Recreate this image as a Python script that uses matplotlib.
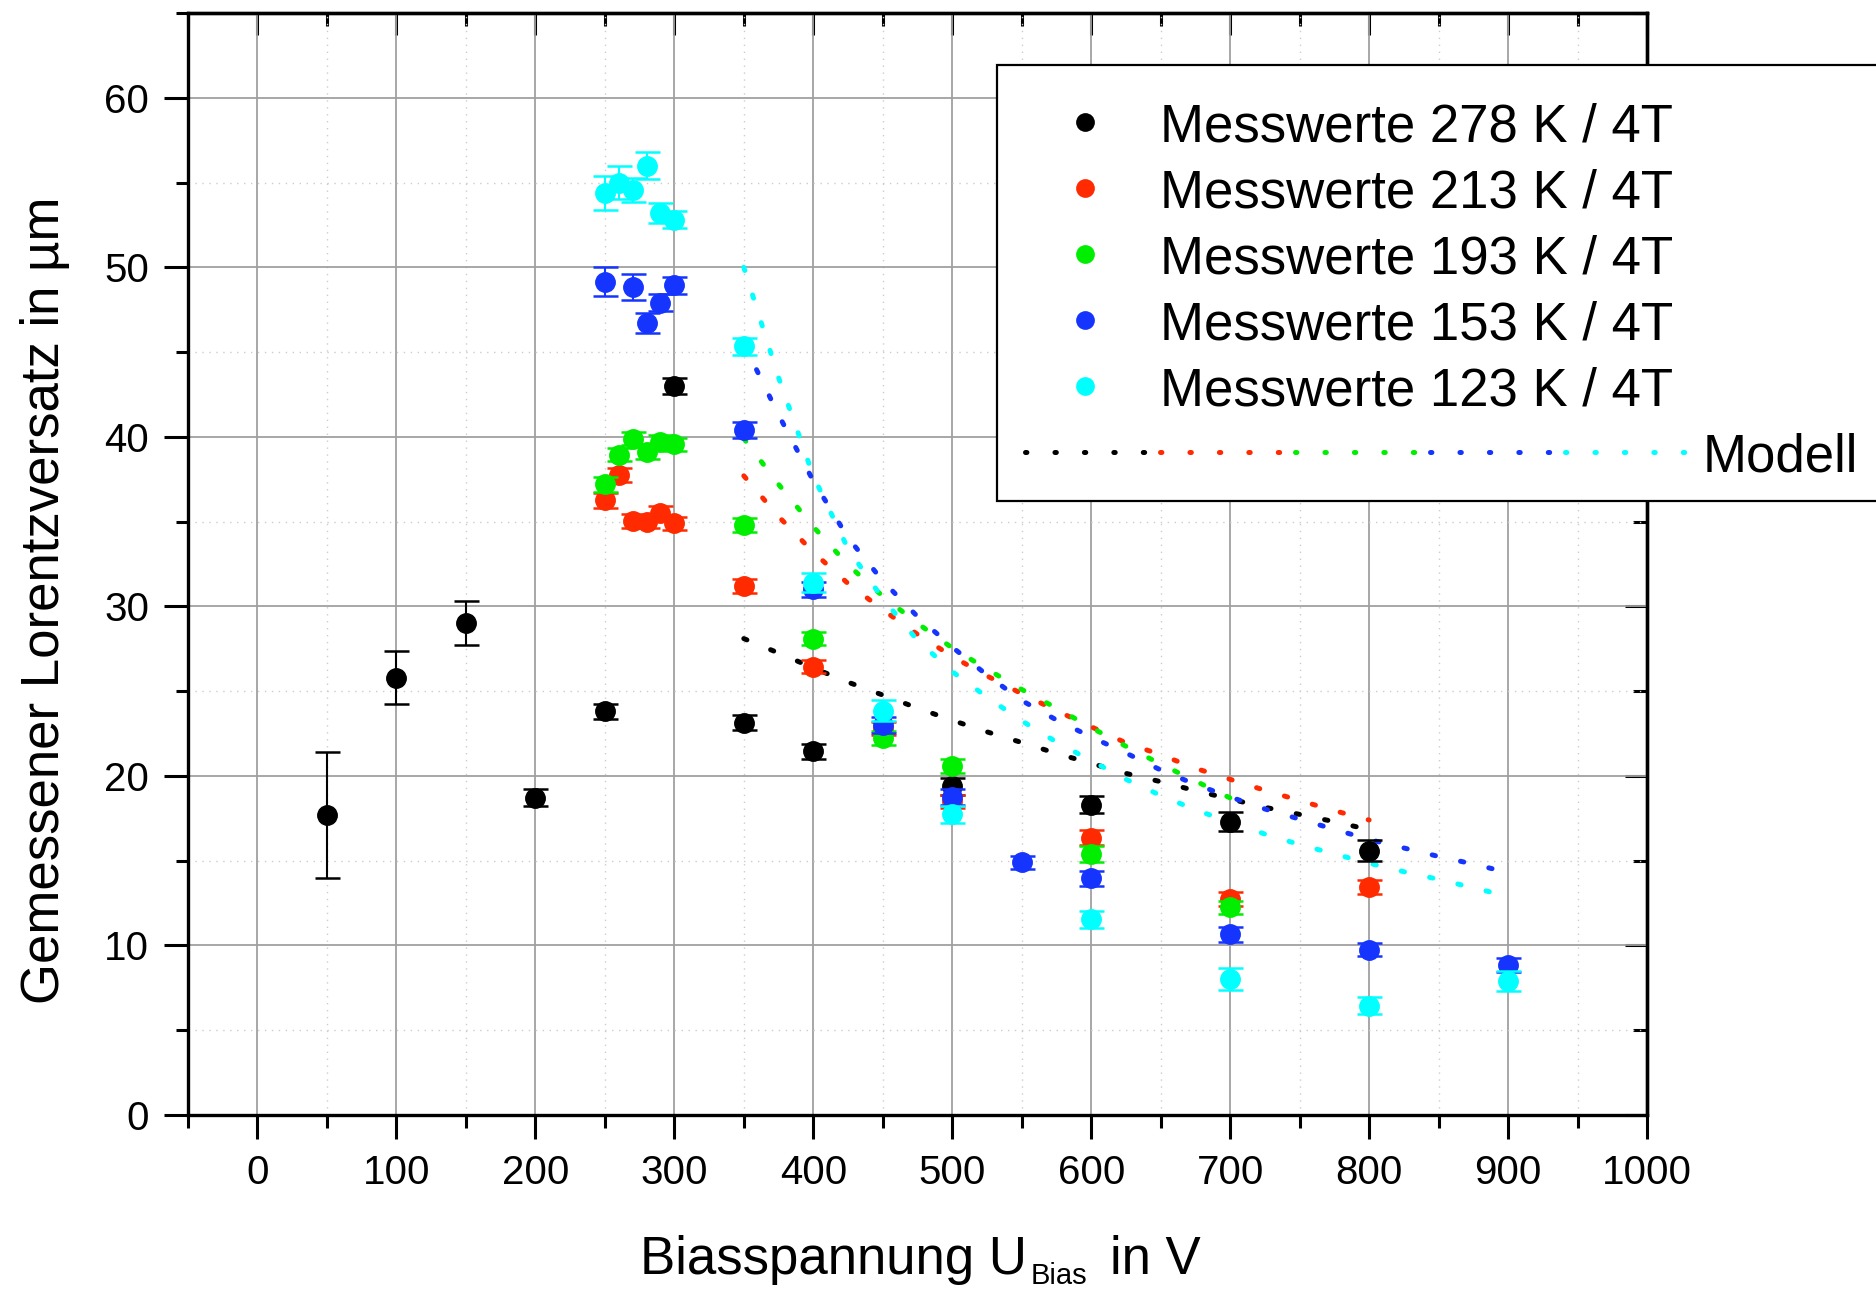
import matplotlib
matplotlib.use("Agg")
import matplotlib.pyplot as plt
from matplotlib.ticker import MultipleLocator
from matplotlib.patches import Rectangle

plt.rcParams['font.family'] = ['Liberation Sans', 'DejaVu Sans']
plt.rcParams['lines.scale_dashes'] = False

# Messwerte (Biasspannung in V, Lorentzversatz in um, Fehler)
black_x = [50, 100, 150, 200, 250, 300, 350, 400, 500, 600, 700, 800]
black_y = [17.7, 25.8, 29.0, 18.7, 23.8, 43.0, 23.15, 21.45, 19.4, 18.3, 17.3, 15.6]
black_err = [3.7, 1.55, 1.3, 0.5, 0.45, 0.5, 0.45, 0.45, 0.5, 0.5, 0.55, 0.6]

red_x = [250, 260, 270, 280, 290, 300, 350, 400, 450, 500, 600, 700, 800]
red_y = [36.25, 37.75, 35.05, 35.0, 35.5, 34.9, 31.2, 26.45, 22.8, 18.5, 16.35, 12.75, 13.45]
red_err = [0.45, 0.4, 0.4, 0.4, 0.4, 0.4, 0.4, 0.4, 0.4, 0.4, 0.45, 0.4, 0.4]

green_x = [250, 260, 270, 280, 290, 300, 350, 400, 450, 500, 600, 700]
green_y = [37.2, 38.95, 39.9, 39.1, 39.7, 39.55, 34.8, 28.1, 22.25, 20.6, 15.4, 12.25]
green_err = [0.45, 0.4, 0.4, 0.4, 0.4, 0.4, 0.4, 0.4, 0.4, 0.4, 0.45, 0.4]

blue_x = [250, 270, 280, 290, 300, 350, 400, 450, 500, 550, 600, 700, 800, 900]
blue_y = [49.15, 48.85, 46.7, 47.9, 48.95, 40.4, 31.0, 23.0, 18.75, 14.9, 13.95, 10.65, 9.75, 8.85]
blue_err = [0.85, 0.75, 0.6, 0.5, 0.5, 0.45, 0.45, 0.45, 0.45, 0.4, 0.45, 0.45, 0.4, 0.4]

cyan_x = [250, 260, 270, 280, 290, 300, 350, 400, 450, 500, 600, 700, 800, 900]
cyan_y = [54.4, 55.0, 54.55, 56.0, 53.2, 52.8, 45.35, 31.4, 23.85, 17.75, 11.55, 8.05, 6.45, 7.9]
cyan_err = [1.0, 0.95, 0.7, 0.8, 0.6, 0.5, 0.5, 0.55, 0.6, 0.5, 0.5, 0.65, 0.5, 0.6]

# Modellkurven
mod_black_x = [350, 375, 400, 425, 450, 475, 500, 525, 550, 575, 600, 625, 650, 675, 700, 725, 750, 775, 800]
mod_black_y = [28.1, 27.25, 26.37, 25.53, 24.77, 24.0, 23.28, 22.6, 21.97, 21.33, 20.74, 20.15, 19.66, 19.13,
               18.64, 18.15, 17.73, 17.3, 16.83]

mod_red_x = [350, 375, 400, 425, 450, 475, 500, 525, 550, 575, 600, 625, 650, 675, 700, 725, 750, 775, 800]
mod_red_y = [37.7, 35.3, 33.2, 31.35, 29.8, 28.35, 27.05, 25.9, 24.85, 23.85, 22.9, 21.95, 21.25, 20.45,
             19.8, 19.15, 18.55, 17.95, 17.4]

mod_green_x = [350, 375, 400, 425, 450, 475, 500, 525, 550, 575, 600, 625, 650, 675, 700]
mod_green_y = [39.9, 37.2, 34.7, 32.45, 30.6, 29.0, 27.55, 26.3, 25.1, 24.0, 22.85, 21.75, 20.7, 19.7, 18.7]

mod_blue_x = [350, 375, 400, 425, 450, 475, 500, 525, 550, 575, 600, 625, 650, 675, 700, 725, 750, 775,
              800, 825, 850, 875, 890]
mod_blue_y = [45.5, 41.3, 37.4, 34.05, 31.5, 29.4, 27.6, 25.95, 24.45, 23.3, 22.3, 21.35, 20.35, 19.5,
              18.76, 18.05, 17.45, 16.85, 16.25, 15.75, 15.25, 14.8, 14.5]

mod_cyan_x = [350, 375, 400, 425, 450, 475, 500, 525, 550, 575, 600, 625, 650, 675, 700, 725, 750, 775,
              800, 825, 850, 875, 890]
mod_cyan_y = [50.0, 43.5, 37.7, 33.4, 30.45, 28.0, 26.15, 24.65, 23.25, 22.0, 20.9, 19.8, 18.85, 18.0,
              17.28, 16.57, 15.95, 15.4, 14.85, 14.35, 13.9, 13.4, 13.1]

labels = ['Messwerte 278 K / 4T', 'Messwerte 213 K / 4T', 'Messwerte 193 K / 4T',
          'Messwerte 153 K / 4T', 'Messwerte 123 K / 4T']
colors = ['#000000', '#ff2a00', '#00ee00', '#1535ff', '#00ffff']

series = [(black_x, black_y, black_err), (red_x, red_y, red_err), (green_x, green_y, green_err),
          (blue_x, blue_y, blue_err), (cyan_x, cyan_y, cyan_err)]
models = [(mod_black_x, mod_black_y), (mod_red_x, mod_red_y), (mod_green_x, mod_green_y),
          (mod_blue_x, mod_blue_y), (mod_cyan_x, mod_cyan_y)]

W, H = 1876, 1293
fig = plt.figure(figsize=(W / 100, H / 100), dpi=100)
ax = fig.add_axes([188 / W, 1 - 1115 / H, (1647 - 188) / W, (1115 - 13) / H])

dot = (2.4, 18.5)
for (mx, my), c in zip(models, colors):
    ax.plot(mx, my, color=c, lw=3.6, dashes=dot, dash_capstyle='round', zorder=2)

for i, ((x, y, e), c) in enumerate(zip(series, colors)):
    ax.errorbar(x, y, yerr=e, fmt='o', color=c, ms=14, mec=c, capsize=9,
                elinewidth=1.5, capthick=1.8, zorder=3 + i)

ax.set_xlim(-50, 1000)
ax.set_ylim(0, 65)
ax.xaxis.set_major_locator(MultipleLocator(100))
ax.xaxis.set_minor_locator(MultipleLocator(50))
ax.yaxis.set_major_locator(MultipleLocator(10))
ax.yaxis.set_minor_locator(MultipleLocator(5))
ax.grid(which='major', color='#a0a0a0', lw=1.3, zorder=0)
ax.grid(which='minor', color='#cccccc', lw=1.0, linestyle=(0, (1, 4)), zorder=0)
ax.set_axisbelow(True)

for s in ax.spines.values():
    s.set_linewidth(2.4)
ax.tick_params(which='major', direction='out', length=17, width=2.2, labelsize=29, pad=11)
ax.tick_params(which='minor', direction='out', length=9, width=2.2)

top = ax.secondary_xaxis('top')
top.xaxis.set_major_locator(MultipleLocator(100))
top.xaxis.set_minor_locator(MultipleLocator(50))
top.tick_params(which='major', direction='in', length=16, width=2.2, labeltop=False)
top.tick_params(which='minor', direction='in', length=9, width=2.2)
top.spines['top'].set_linewidth(2.4)

right = ax.secondary_yaxis('right')
right.yaxis.set_major_locator(MultipleLocator(10))
right.yaxis.set_minor_locator(MultipleLocator(5))
right.tick_params(which='major', direction='in', length=16, width=2.2, labelright=False)
right.tick_params(which='minor', direction='in', length=10, width=2.2)
right.spines['right'].set_linewidth(2.4)

# Achsenbeschriftungen
fig.text(1027 / W, 1 - 1274 / H, 'Biasspannung U', fontsize=38, ha='right', va='baseline')
fig.text(1031 / W, 1 - 1284 / H, 'Bias', fontsize=21, ha='left', va='baseline')
fig.text(1110 / W, 1 - 1274 / H, 'in V', fontsize=38, ha='left', va='baseline')
fig.text(45 / W, 1 - 600 / H, 'Gemessener Lorentzversatz in µm', fontsize=38,
         rotation=90, ha='center', va='center')

# Legende
lax = fig.add_axes([0, 0, 1, 1], zorder=10)
lax.set_xlim(0, W)
lax.set_ylim(H, 0)
lax.axis('off')
lax.add_patch(Rectangle((997, 65), 1000, 436, facecolor='white', edgecolor='black', lw=1.6))
rows = [122, 188, 254, 320, 386]
for yr, lab, c in zip(rows, labels, colors):
    lax.plot(1085, yr, 'o', color=c, ms=13.5, mew=0)
    lax.text(1160, yr + 19, lab, fontsize=38, ha='left', va='baseline')
seg_x = [1025, 1160, 1295, 1430, 1565]
for sx, c in zip(seg_x, colors):
    lax.plot([sx, sx + 4 * 29.4 + 3], [452, 452], color=c, lw=3.6, dashes=(1.0, 20.2),
             dash_capstyle='round')
lax.text(1858, 471, 'Modell', fontsize=38, ha='right', va='baseline')

fig.savefig('out.png', dpi=100)
